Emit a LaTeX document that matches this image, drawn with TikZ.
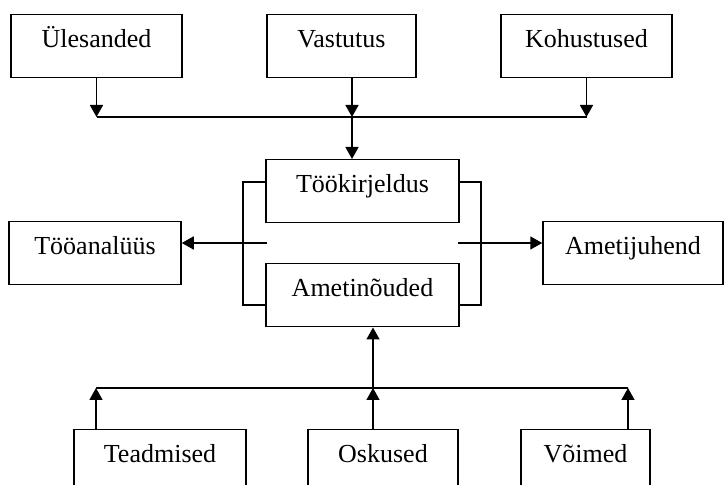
\documentclass[tikz,border=0pt]{standalone}
\usepackage{fontspec}
\setmainfont{Liberation Serif}
\usepackage{tikz}
\usetikzlibrary{arrows.meta}
\tikzset{
  job box/.style={
    draw,
    line width=0.75pt,
    inner sep=0pt,
    anchor=north,
    text height=16.5pt,
    text depth=15pt,
    font=\fontsize{13}{15}\selectfont
  },
  flow/.style={
    draw,
    line width=0.8pt,
    -{Triangle[length=6pt,width=6.5pt]}
  },
  link/.style={
    draw,
    line width=0.8pt
  }
}

\begin{document}
\begin{tikzpicture}[x=0.5pt,y=-0.5pt]
  \useasboundingbox (0,0) rectangle (724,485);
  \clip (0,0) rectangle (724,485);

  \node[job box,minimum width=85.5pt] (ules) at (96.5,14) {Ülesanded};
  \node[job box,minimum width=74.5pt] (vast) at (341.5,14) {Vastutus};
  \node[job box,minimum width=85.5pt] (kohu) at (586.5,14) {Kohustused};

  \node[job box,minimum width=96.5pt] (tkirj) at (362.5,159) {Töökirjeldus};
  \node[job box,minimum width=96.5pt] (anoud) at (362.5,263) {Ametinõuded};

  \node[job box,minimum width=86pt] (tooan) at (95,221) {Tööanalüüs};
  \node[job box,minimum width=90pt] (ametij) at (633,221) {Ametijuhend};

  \node[job box,minimum width=86pt] (tead) at (160,429) {Teadmised};
  \node[job box,minimum width=75pt] (osk) at (383,429) {Oskused};
  \node[job box,minimum width=64.5pt] (voim) at (585.5,429) {Võimed};

  \coordinate (topjoin) at (352,117);
  \coordinate (leftgap) at (267,243);
  \coordinate (rightgap) at (458,243);
  \coordinate (botjoin) at (373,388);
  \coordinate (teadjoin) at (96,388);
  \coordinate (voimjoin) at (628,388);

  \draw[flow] (ules) -- (ules |- topjoin);
  \draw[flow] (vast.south -| topjoin) -- (topjoin);
  \draw[flow] (kohu) -- (kohu |- topjoin);
  \draw[link] (ules |- topjoin) -- (kohu |- topjoin);
  \draw[flow] (topjoin) -- (topjoin |- tkirj.north);

  \draw[link] ([yshift=4.75pt]tkirj.west) -- ++(-22,0) |- ([yshift=-4.75pt]anoud.west);
  \draw[link] ([yshift=4.75pt]tkirj.east) -- ++(21,0) |- ([yshift=-4.75pt]anoud.east);

  \draw[flow] (leftgap) -- (leftgap -| tooan.east);
  \draw[flow] (rightgap) -- (rightgap -| ametij.west);

  \draw[flow] (botjoin) -- (botjoin |- anoud.south);
  \draw[flow] (osk.north -| botjoin) -- (botjoin);
  \draw[flow] (tead.north -| teadjoin) -- (teadjoin);
  \draw[flow] (voim.north -| voimjoin) -- (voimjoin);
  \draw[link] (teadjoin) -- (voimjoin);
\end{tikzpicture}
\end{document}
